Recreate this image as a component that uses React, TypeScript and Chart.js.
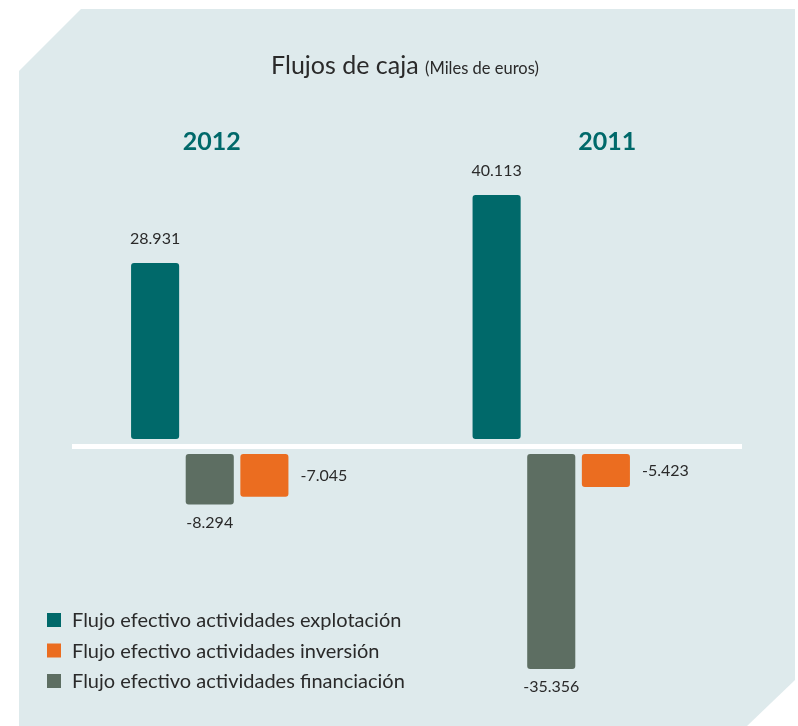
import React, { useEffect, useRef } from "react";
import { Chart, registerables } from "chart.js";
Chart.register(...registerables);

const years = ["2012", "2011"];
const explotacion = [28931, 40113];
const financiacion = [-8294, -35356];
const inversion = [-7045, -5423];
const seriesLabels = [
  "Flujo efectivo actividades explotación",
  "Flujo efectivo actividades financiación",
  "Flujo efectivo actividades inversión",
];
const legendOrder = [0, 2, 1];
const labelPlacement = ["top", "bottom", "right"];
const titleText = "Flujos de caja";
const subtitleText = "(Miles de euros)";

const TEAL = "#00696a";
const GRAY = "#5d6e62";
const ORANGE = "#eb6d20";
const BG = "#deeaec";
const TEXT = "#2a2a2a";
const FONT = "Lato, 'Open Sans', sans-serif";

const fmt = (n: number) =>
  (n < 0 ? "-" : "") + Math.abs(n).toString().replace(/\B(?=(\d{3})+(?!\d))/g, ".");

const decorPlugin = {
  id: "decor",
  beforeDraw(chart: any) {
    const { ctx } = chart;
    ctx.save();
    ctx.fillStyle = "#ffffff";
    ctx.fillRect(0, 0, chart.width, chart.height);
    ctx.fillStyle = BG;
    ctx.beginPath();
    ctx.moveTo(19, 71);
    ctx.lineTo(81, 9);
    ctx.lineTo(795, 9);
    ctx.lineTo(795, 680);
    ctx.lineTo(747, 726);
    ctx.lineTo(19, 726);
    ctx.closePath();
    ctx.fill();

    // zero line
    const yp = chart.scales.yPos.getPixelForValue(0);
    const yn = chart.scales.yNeg.getPixelForValue(0);
    const ym = (yp + yn) / 2;
    ctx.fillStyle = "#ffffff";
    ctx.fillRect(72, ym - 2.5, 670, 5);

    // title
    ctx.textBaseline = "alphabetic";
    ctx.fillStyle = TEXT;
    ctx.font = `25px ${FONT}`;
    const w1 = ctx.measureText(titleText + " ").width;
    ctx.font = `16.5px ${FONT}`;
    const w2 = ctx.measureText(subtitleText).width;
    const x0 = 405 - (w1 + w2) / 2;
    ctx.font = `25px ${FONT}`;
    ctx.textAlign = "left";
    ctx.fillText(titleText, x0, 74);
    ctx.font = `16.5px ${FONT}`;
    ctx.fillText(subtitleText, x0 + w1, 74);

    // year labels
    const xs = chart.scales.x;
    const offsets = [2, 56];
    ctx.font = `bold 25px ${FONT}`;
    ctx.fillStyle = TEAL;
    ctx.textAlign = "center";
    ctx.textBaseline = "middle";
    years.forEach((y, i) => {
      ctx.fillText(y, xs.getPixelForValue(i) + offsets[i], 142);
    });

    // legend
    ctx.font = `20px ${FONT}`;
    ctx.textAlign = "left";
    legendOrder.forEach((di, k) => {
      const ds = chart.data.datasets[di];
      const cy = 620 + k * 30.5;
      ctx.fillStyle = ds.backgroundColor;
      ctx.fillRect(47, cy - 7, 14, 14);
      ctx.fillStyle = TEXT;
      ctx.fillText(ds.label, 72, cy + 1);
    });
    ctx.restore();
  },
  afterDatasetsDraw(chart: any) {
    const { ctx } = chart;
    ctx.save();
    ctx.font = `16px ${FONT}`;
    ctx.fillStyle = TEXT;
    ctx.textBaseline = "middle";
    chart.data.datasets.forEach((ds: any, di: number) => {
      const meta = chart.getDatasetMeta(di);
      meta.data.forEach((el: any, i: number) => {
        const v = ds.data[i];
        const p = labelPlacement[di];
        const { x, y, base, width } = el.getProps(["x", "y", "base", "width"], true);
        if (p === "top") {
          ctx.textAlign = "center";
          ctx.fillText(fmt(v), x, y - 24);
        } else if (p === "bottom") {
          ctx.textAlign = "center";
          ctx.fillText(fmt(v), x, y + 18);
        } else {
          ctx.textAlign = "left";
          ctx.fillText(fmt(v), x + width / 2 + 12, (y + base) / 2);
        }
      });
    });
    ctx.restore();
  },
};

export default function App() {
  const ref = useRef<HTMLCanvasElement>(null);
  useEffect(() => {
    if (!ref.current) return;
    const common = {
      categoryPercentage: 0.48,
      barPercentage: 0.88,
      borderRadius: 3,
      borderSkipped: false,
    };
    const chart = new Chart(ref.current, {
      type: "bar",
      data: {
        labels: years,
        datasets: [
          { label: seriesLabels[0], data: explotacion, backgroundColor: TEAL, yAxisID: "yPos", ...common },
          { label: seriesLabels[1], data: financiacion, backgroundColor: GRAY, yAxisID: "yNeg", ...common },
          { label: seriesLabels[2], data: inversion, backgroundColor: ORANGE, yAxisID: "yNeg", ...common },
        ],
      },
      options: {
        animation: false,
        responsive: false,
        devicePixelRatio: 1,
        layout: { padding: { top: 190, bottom: 36, left: 39, right: 76 } },
        plugins: { legend: { display: false }, tooltip: { enabled: false }, title: { display: false } },
        scales: {
          x: { display: false },
          yPos: { display: false, min: -41290, max: 40950 },
          yNeg: { display: false, min: -38820, max: 43420 },
        },
      } as any,
      plugins: [decorPlugin],
    });
    return () => chart.destroy();
  }, []);
  return (
    <div style={{ position: "fixed", left: 0, top: 0, width: 798, height: 726 }}>
      <canvas ref={ref} width={798} height={726} style={{ display: "block" }} />
    </div>
  );
}
